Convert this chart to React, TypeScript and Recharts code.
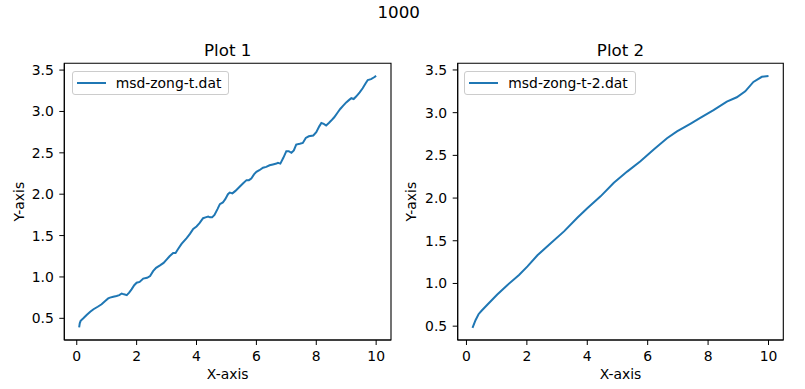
import React from 'react';
import { LineChart, Line, XAxis, YAxis, ReferenceArea, Legend } from 'recharts';

// ---- data ----
const x1 = [0.08, 0.10, 0.13, 0.22, 0.33, 0.45, 0.56, 0.70, 0.83, 0.95, 1.05, 1.11, 1.22, 1.33, 1.42, 1.50, 1.58, 1.67, 1.75, 1.83, 1.92, 2.00, 2.10, 2.22, 2.35, 2.45, 2.55, 2.65, 2.78, 2.90, 3.00, 3.10, 3.22, 3.30, 3.39, 3.50, 3.67, 3.78, 3.89, 4.00, 4.10, 4.22, 4.30, 4.39, 4.45, 4.52, 4.60, 4.70, 4.78, 4.88, 4.96, 5.05, 5.11, 5.20, 5.30, 5.44, 5.55, 5.67, 5.75, 5.83, 5.92, 6.00, 6.10, 6.22, 6.33, 6.44, 6.55, 6.67, 6.72, 6.80, 6.90, 7.00, 7.08, 7.17, 7.25, 7.33, 7.45, 7.55, 7.65, 7.75, 7.90, 8.00, 8.10, 8.17, 8.25, 8.33, 8.42, 8.50, 8.60, 8.72, 8.80, 8.90, 9.00, 9.10, 9.17, 9.25, 9.33, 9.45, 9.55, 9.65, 9.72, 9.83, 9.92, 10.0];
const y1 = [0.39, 0.44, 0.47, 0.50, 0.54, 0.58, 0.61, 0.64, 0.67, 0.71, 0.74, 0.75, 0.76, 0.77, 0.78, 0.80, 0.79, 0.78, 0.81, 0.85, 0.90, 0.93, 0.94, 0.98, 0.99, 1.01, 1.07, 1.11, 1.14, 1.17, 1.21, 1.25, 1.29, 1.29, 1.34, 1.40, 1.47, 1.52, 1.58, 1.61, 1.65, 1.71, 1.72, 1.73, 1.72, 1.72, 1.75, 1.82, 1.88, 1.90, 1.94, 2.00, 2.02, 2.01, 2.04, 2.09, 2.13, 2.17, 2.17, 2.19, 2.24, 2.27, 2.29, 2.32, 2.33, 2.35, 2.36, 2.37, 2.38, 2.37, 2.44, 2.52, 2.52, 2.50, 2.53, 2.60, 2.61, 2.62, 2.68, 2.70, 2.71, 2.75, 2.82, 2.86, 2.85, 2.83, 2.86, 2.89, 2.93, 2.99, 3.03, 3.07, 3.11, 3.14, 3.16, 3.15, 3.18, 3.23, 3.28, 3.34, 3.38, 3.39, 3.41, 3.43];
const x2 = [0.20, 0.30, 0.40, 0.50, 0.69, 1.02, 1.35, 1.74, 2.02, 2.35, 2.79, 3.23, 3.67, 4.00, 4.44, 4.88, 5.32, 5.76, 6.20, 6.64, 6.97, 7.41, 7.74, 8.18, 8.62, 8.95, 9.23, 9.50, 9.78, 10.0];
const y2 = [0.48, 0.57, 0.64, 0.68, 0.75, 0.87, 0.98, 1.10, 1.20, 1.33, 1.47, 1.61, 1.77, 1.88, 2.02, 2.18, 2.31, 2.43, 2.57, 2.70, 2.78, 2.87, 2.94, 3.03, 3.13, 3.18, 3.25, 3.36, 3.42, 3.43];
const xTicks = [0, 2, 4, 6, 8, 10];
const yTicks = [0.5, 1.0, 1.5, 2.0, 2.5, 3.0, 3.5];
const suptitle = '1000';
const titles = ['Plot 1', 'Plot 2'];
const seriesNames = ['msd-zong-t.dat', 'msd-zong-t-2.dat'];

const data1 = x1.map((x, i) => ({ x, y: y1[i] }));
const data2 = x2.map((x, i) => ({ x, y: y2[i] }));

const FONT = '"DejaVu Sans", sans-serif';
const BLUE = '#1f77b4';
const FS = 13.9;

const LegendBox = (props: any) => {
  const item = props.payload && props.payload[0];
  if (!item) return null;
  return (
    <div
      style={{
        boxSizing: 'border-box',
        height: 24.3,
        border: '1px solid #cccccc',
        borderRadius: 3,
        background: 'rgba(255,255,255,0.8)',
        display: 'flex',
        alignItems: 'center',
        padding: '0 7px 0 4px',
        fontFamily: FONT,
        fontSize: FS,
        color: '#000',
        whiteSpace: 'nowrap',
      }}
    >
      <svg width={29} height={4} style={{ marginRight: 10, display: 'block' }}>
        <line x1={0} y1={2} x2={29} y2={2} stroke={item.color} strokeWidth={2} />
      </svg>
      <span>{item.value}</span>
    </div>
  );
};

type PanelProps = {
  data: { x: number; y: number }[];
  name: string;
  width: number;
  rightMargin: number;
  yAxisWidth: number;
  xDomain: [number, number];
  yDomain: [number, number];
  legendLeft: number;
  yLabelX: number;
};

const Panel = (p: PanelProps) => (
  <LineChart
    width={p.width}
    height={389}
    data={p.data}
    margin={{ top: 63.3, right: p.rightMargin, bottom: 0, left: 0 }}
  >
    <XAxis
      dataKey="x"
      type="number"
      domain={p.xDomain}
      allowDataOverflow
      ticks={xTicks}
      height={49}
      tickSize={5}
      tickMargin={6.5}
      stroke="#000"
      tick={{ fill: '#000', fontSize: FS, fontFamily: FONT }}
      label={{ value: 'X-axis', position: 'insideBottom', offset: 9.7, fill: '#000', fontSize: FS, fontFamily: FONT }}
    />
    <YAxis
      type="number"
      domain={p.yDomain}
      allowDataOverflow
      ticks={yTicks}
      width={p.yAxisWidth}
      tickSize={5}
      tickMargin={5.5}
      stroke="#000"
      tickFormatter={(v: number) => v.toFixed(1)}
      tick={{ fill: '#000', fontSize: FS, fontFamily: FONT }}
      label={{
        content: (lp: any) => {
          const vb = lp.viewBox || { x: 0, y: 63.3, height: 276.7 };
          const cx = vb.x + p.yLabelX;
          const cy = vb.y + vb.height / 2;
          return (
            <text
              x={cx}
              y={cy}
              transform={`rotate(-90, ${cx}, ${cy})`}
              textAnchor="middle"
              fill="#000"
              fontSize={FS}
              fontFamily={FONT}
            >
              Y-axis
            </text>
          );
        },
      }}
    />
    <ReferenceArea
      x1={p.xDomain[0]}
      x2={p.xDomain[1]}
      y1={p.yDomain[0]}
      y2={p.yDomain[1]}
      fill="none"
      fillOpacity={0}
      stroke="#000"
      strokeWidth={1.1}
      strokeOpacity={1}
      ifOverflow="visible"
    />
    <Legend
      layout="vertical"
      verticalAlign="middle"
      align="center"
      wrapperStyle={{ left: p.legendLeft, top: 70.7, width: 'auto', height: 'auto' }}
      content={<LegendBox />}
    />
    <Line
      type="linear"
      dataKey="y"
      name={p.name}
      stroke={BLUE}
      strokeWidth={2}
      dot={false}
      isAnimationActive={false}
    />
  </LineChart>
);

export default function App() {
  return (
    <div
      style={{
        position: 'absolute',
        left: 0,
        top: 0,
        width: 805,
        height: 389,
        background: '#fff',
        fontFamily: FONT,
      }}
    >
      <div style={{ position: 'absolute', left: 0, top: 0 }}>
        <Panel
          data={data1}
          name={seriesNames[0]}
          width={400}
          rightMargin={9}
          yAxisWidth={64.3}
          xDomain={[-0.416, 10.496]}
          yDomain={[0.238, 3.582]}
          legendLeft={71.7}
          yLabelX={24}
        />
      </div>
      <div style={{ position: 'absolute', left: 400, top: 0 }}>
        <Panel
          data={data2}
          name={seriesNames[1]}
          width={405}
          rightMargin={21.7}
          yAxisWidth={57.7}
          xDomain={[-0.29, 10.49]}
          yDomain={[0.338, 3.578]}
          legendLeft={64.3}
          yLabelX={16}
        />
      </div>
      <svg
        width={805}
        height={389}
        style={{ position: 'absolute', left: 0, top: 0, pointerEvents: 'none' }}
      >
        <text x={398.7} y={18.3} textAnchor="middle" fontSize={16.7} fontFamily={FONT} fill="#000">
          {suptitle}
        </text>
        <text x={227.7} y={55.7} textAnchor="middle" fontSize={16.7} fontFamily={FONT} fill="#000">
          {titles[0]}
        </text>
        <text x={620.5} y={55.7} textAnchor="middle" fontSize={16.7} fontFamily={FONT} fill="#000">
          {titles[1]}
        </text>
      </svg>
    </div>
  );
}
